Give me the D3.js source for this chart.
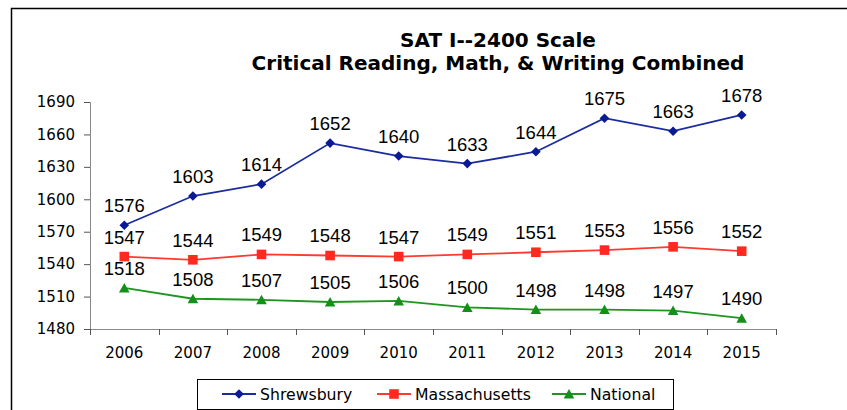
<!DOCTYPE html>
<html><head><meta charset="utf-8">
<script src="https://cdn.jsdelivr.net/npm/d3@7"></script>
<style>body{margin:0;background:#fff}svg{display:block}</style>
</head><body><svg id="c" width="847" height="410"></svg>
<script>
const years = ["2006","2007","2008","2009","2010","2011","2012","2013","2014","2015"];
const shrewsbury = [1576,1603,1614,1652,1640,1633,1644,1675,1663,1678];
const massachusetts = [1547,1544,1549,1548,1547,1549,1551,1553,1556,1552];
const national = [1518,1508,1507,1505,1506,1500,1498,1498,1497,1490];
const yTicks = [1480,1510,1540,1570,1600,1630,1660,1690];
const seriesNames = ["Shrewsbury","Massachusetts","National"];

const svg = d3.select("#c");
svg.append("rect").attr("x",11.5).attr("y",8.5).attr("width",847).attr("height",420)
  .attr("fill","#fff").attr("stroke","#000").attr("stroke-width",1.5);

const x = d3.scaleBand().domain(years).range([90,776]);
const y = d3.scaleLinear().domain([1480,1690]).range([329,102]);

const t = svg.append("text").attr("text-anchor","middle").attr("font-family","DejaVu Sans, Verdana")
  .attr("font-weight","bold").attr("font-size",20).attr("fill","#000");
t.append("tspan").attr("x",498).attr("y",47).text("SAT I--2400 Scale");
t.append("tspan").attr("x",498).attr("y",70).text("Critical Reading, Math, & Writing Combined");

const yAxis = d3.axisLeft(y).tickValues(yTicks).tickSize(6).tickPadding(9).tickFormat(d3.format("d"));
const gy = svg.append("g").attr("transform","translate(90,0)").call(yAxis);
gy.select(".domain").attr("stroke","#888").attr("d","M-6,102.5H0.5V329.5");
gy.selectAll(".tick line").attr("stroke","#555");
gy.selectAll("text").attr("font-family","DejaVu Sans, Verdana").attr("font-size",15).attr("fill","#000");

const xAxis = d3.axisBottom(x).tickSize(0).tickPadding(18);
const gx = svg.append("g").attr("transform","translate(0,329)").call(xAxis);
gx.select(".domain").attr("stroke","#888").attr("d","M90,0.5H776.5");
gx.selectAll("text").attr("font-family","DejaVu Sans, Verdana").attr("font-size",15).attr("fill","#000");
const bounds = years.map(d=>x(d)).concat([x(years[years.length-1])+x.bandwidth()]);
gx.selectAll(".btick").data(bounds).enter().append("line").attr("class","btick")
  .attr("x1",d=>Math.round(d)+0.5).attr("x2",d=>Math.round(d)+0.5).attr("y1",0).attr("y2",6).attr("stroke","#555");

const cx = d => x(d)+x.bandwidth()/2;
const diamond = "M0,-4.8L4.8,0L0,4.8L-4.8,0Z";
const square = "M-4.8,-4.8H4.8V4.8H-4.8Z";
const tri = "M0,-5L5.3,4.5H-5.3Z";
const series = [
  {name:seriesNames[0], vals:shrewsbury, line:"#1a2c9e", mark:"#0a1a94", shape:diamond},
  {name:seriesNames[1], vals:massachusetts, line:"#ff3b30", mark:"#ff2a1f", shape:square},
  {name:seriesNames[2], vals:national, line:"#1e961e", mark:"#14901a", shape:tri}
];
const line = d3.line().x(d=>cx(d.year)).y(d=>y(d.v));
series.forEach(s=>{
  const pts = years.map((yr,i)=>({year:yr,v:s.vals[i]}));
  svg.append("path").datum(pts).attr("d",line).attr("fill","none").attr("stroke",s.line).attr("stroke-width",1.8);
  svg.selectAll(null).data(pts).enter().append("path").attr("d",s.shape)
    .attr("transform",d=>`translate(${cx(d.year)},${y(d.v)})`).attr("fill",s.mark);
  svg.selectAll(null).data(pts).enter().append("text")
    .attr("x",d=>cx(d.year)).attr("y",d=>y(d.v)-13).attr("text-anchor","middle")
    .attr("font-family","Liberation Sans, Arial").attr("font-size",18.5).attr("fill","#000").text(d=>d.v);
});

svg.append("rect").attr("x",197.5).attr("y",379.5).attr("width",476).attr("height",30)
  .attr("fill","#fff").attr("stroke","#000").attr("stroke-width",1);
const legX = [222,377,552];
series.forEach((s,i)=>{
  const g = svg.append("g").attr("transform",`translate(${legX[i]},394)`);
  g.append("line").attr("x1",0).attr("x2",34).attr("stroke",s.line).attr("stroke-width",1.8);
  g.append("path").attr("d",s.shape).attr("transform","translate(17,0)").attr("fill",s.mark);
  g.append("text").attr("x",38).attr("y",5.5).attr("font-family","DejaVu Sans, Verdana").attr("font-size",15.7).attr("fill","#000").text(s.name);
});
</script></body></html>
